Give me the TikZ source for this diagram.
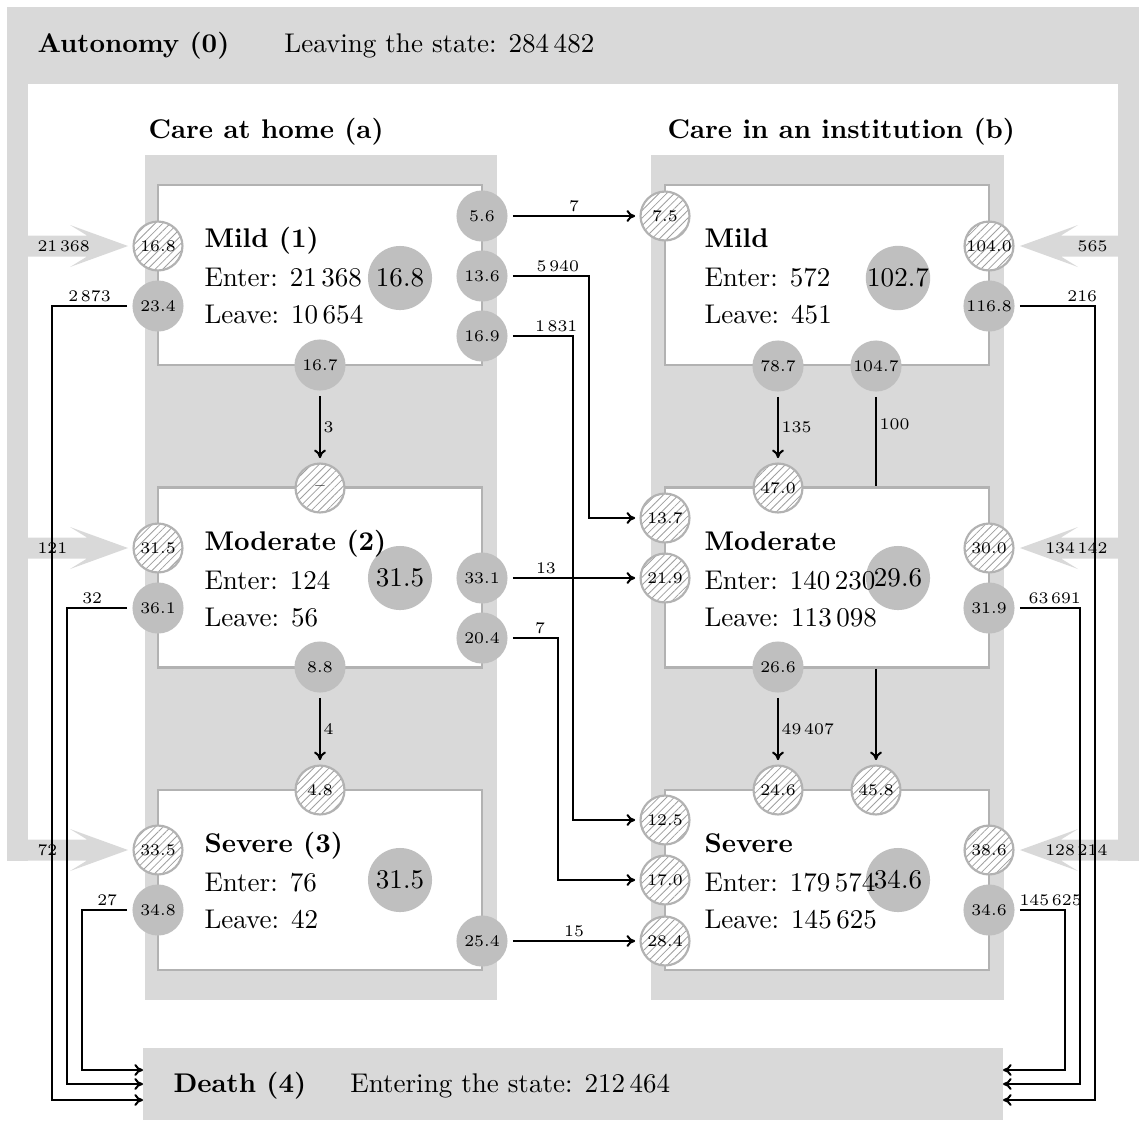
\documentclass[tikz,border=0pt]{standalone}
\usetikzlibrary{patterns.meta,arrows.meta}
\newcommand\smallfnt{\fontsize{6}{7}\selectfont}
\begin{document}
\begin{tikzpicture}[x=0.37pt,y=-0.37pt,
  conn/.style={line width=0.75pt},
  arr/.style={-{Computer Modern Rightarrow[length=3.2pt,width=4.4pt]}},
  lab/.style={font=\smallfnt, inner sep=1pt},
  sc/.style={circle, fill=gray!50, minimum size=18.9pt, inner sep=0pt, outer sep=2pt, font=\smallfnt},
  hc/.style={circle, draw=gray!60, line width=0.8pt, preaction={fill=white},
    pattern={Lines[angle=45,distance=2pt,line width=0.3pt]}, pattern color=gray!75,
    minimum size=18.1pt, inner sep=0pt, outer sep=2pt, font=\smallfnt},
  bc/.style={circle, fill=gray!50, minimum size=23.7pt, inner sep=0pt},
  stbox/.style={draw=gray!60, line width=0.8pt, fill=white, minimum width=119.9pt, minimum height=66.6pt, inner sep=0pt},
  txt/.style={anchor=base west, inner sep=0pt},
  ttl/.style={anchor=base west, inner sep=0pt, font=\bfseries},
  band/.style={fill=gray!30, draw=none},
  arlab/.style={font=\smallfnt, inner sep=0pt},
]
\useasboundingbox (0,0) rectangle (1139,1120);

% top bar, side bars, death bar
\fill[band] (7,7) rectangle (1139,84);
\fill[band] (7,84) rectangle (28,860.5);
\fill[band] (1118,84) rectangle (1139,860.5);
\node[band, minimum width=318.2pt, minimum height=26.64pt, inner sep=0pt] (death) at (573,1084) {};

% gray block arrows (left)
\foreach \c/\xs in {246/27,548/27,850/7}{
  \fill[band] (\xs,{\c-10.5}) -- (87,{\c-10.5}) -- (70,{\c-21}) -- (128,\c) -- (70,{\c+21}) -- (87,{\c+10.5}) -- (\xs,{\c+10.5}) -- cycle;
}
% gray block arrows (right)
\foreach \c/\xs in {246/1119,548/1119,850/1139}{
  \fill[band] (\xs,{\c-10.5}) -- (1061,{\c-10.5}) -- (1078,{\c-21}) -- (1020,\c) -- (1078,{\c+21}) -- (1061,{\c+10.5}) -- (\xs,{\c+10.5}) -- cycle;
}
\node[arlab, anchor=west] (inA1) at (37,246) {21\,368};
\node[arlab, anchor=west] (inA2) at (37,548) {121};
\node[arlab, anchor=west] (inA3) at (37,850) {72};
\node[arlab, anchor=east] (inB1) at (1108,246) {565};
\node[arlab, anchor=east] (inB2) at (1108,548) {134\,142};
\node[arlab, anchor=east] (inB3) at (1108,850) {128\,214};

% columns
\fill[band] (145,155) rectangle (497,1000);
\fill[band] (651,155) rectangle (1004,1000);
\node[ttl] (tA) at (148,138) {Care at home (a)};
\node[ttl] (tB) at (667,138) {Care in an institution (b)};

% top and bottom texts
\node[ttl] (auto) at (37,52) {Autonomy (0)};
\node[txt, anchor=base west] (autoL) at ([xshift=2em]auto.base east) {Leaving the state: 284\,482};
\node[ttl] (deathT) at (173,1092) {Death (4)};
\node[txt, anchor=base west] (deathE) at ([xshift=1.6em]deathT.base east) {Entering the state: 212\,464};

% state boxes
\node[stbox] (aM) at (320,275) {};
\node[stbox] (aMo) at (320,577.5) {};
\node[stbox] (aS) at (320,880) {};
\node[stbox] (bM) at (827,275) {};
\node[stbox] (bMo) at (827,577.5) {};
\node[stbox] (bS) at (827,880) {};

% big circles (drawn below the box texts)
\node[bc] (aMb) at (400,278) {16.8};
\node[bc] (aMob) at (400,578) {31.5};
\node[bc] (aSb) at (400,880) {31.5};
\node[bc] (bMb) at (898,278) {102.7};
\node[bc] (bMob) at (898,578) {29.6};
\node[bc] (bSb) at (898,880) {34.6};

% box texts
\node[ttl] (aMt) at (204,247) {Mild (1)};
\node[txt] (aMe) at (204,286) {Enter: 21\,368};
\node[txt] (aMl) at (204,323) {Leave: 10\,654};
\node[ttl] (aMot) at (204,550) {Moderate (2)};
\node[txt] (aMoe) at (204,589) {Enter: 124};
\node[txt] (aMol) at (204,626) {Leave: 56};
\node[ttl] (aSt) at (204,852) {Severe (3)};
\node[txt] (aSe) at (204,891) {Enter: 76};
\node[txt] (aSl) at (204,928) {Leave: 42};
\node[ttl] (bMt) at (704,247) {Mild};
\node[txt] (bMe) at (704,286) {Enter: 572};
\node[txt] (bMl) at (704,323) {Leave: 451};
\node[ttl] (bMot) at (704,550) {Moderate};
\node[txt] (bMoe) at (704,589) {Enter: 140\,230};
\node[txt] (bMol) at (704,626) {Leave: 113\,098};
\node[ttl] (bSt) at (704,852) {Severe};
\node[txt] (bSe) at (704,891) {Enter: 179\,574};
\node[txt] (bSl) at (704,928) {Leave: 145\,625};

% small circles, left column
\node[hc] (a1in) at (158,246) {16.8};
\node[sc] (a1d) at (158,306) {23.4};
\node[sc] (a1r1) at (482,216) {5.6};
\node[sc] (a1r2) at (482,276) {13.6};
\node[sc] (a1r3) at (482,336) {16.9};
\node[sc] (a1b) at (320,365) {16.7};
\node[hc] (a2t) at (320,488) {--};
\node[hc] (a2in) at (158,548) {31.5};
\node[sc] (a2d) at (158,608) {36.1};
\node[sc] (a2r1) at (482,578) {33.1};
\node[sc] (a2r2) at (482,638) {20.4};
\node[sc] (a2b) at (320,667) {8.8};
\node[hc] (a3t) at (320,790) {4.8};
\node[hc] (a3in) at (158,850) {33.5};
\node[sc] (a3d) at (158,910) {34.8};
\node[sc] (a3r) at (482,941) {25.4};

% small circles, right column
\node[hc] (b1l) at (665,216) {7.5};
\node[hc] (b1in) at (989,246) {104.0};
\node[sc] (b1d) at (989,306) {116.8};
\node[sc] (b1b1) at (778,366) {78.7};
\node[sc] (b1b2) at (876,366) {104.7};
\node[hc] (b2t) at (778,488) {47.0};
\node[hc] (b2l1) at (665,518) {13.7};
\node[hc] (b2l2) at (665,578) {21.9};
\node[hc] (b2in) at (989,548) {30.0};
\node[sc] (b2d) at (989,608) {31.9};
\node[sc] (b2b) at (778,667) {26.6};
\node[hc] (b3t1) at (778,790) {24.6};
\node[hc] (b3t2) at (876,790) {45.8};
\node[hc] (b3l1) at (665,820) {12.5};
\node[hc] (b3l2) at (665,880) {17.0};
\node[hc] (b3l3) at (665,941) {28.4};
\node[hc] (b3in) at (989,850) {38.6};
\node[sc] (b3d) at (989,910) {34.6};

% death entry points
\coordinate (dL1) at (143,1070);
\coordinate (dL2) at (143,1084);
\coordinate (dL3) at (143,1100);
\coordinate (dR1) at (1003,1070);
\coordinate (dR2) at (1003,1084);
\coordinate (dR3) at (1003,1100);

% connectors between columns
\draw[conn,arr] (a1r1) -- node[lab,above]{7} (b1l);
\draw[conn,arr] (a1r2) -- node[lab,above,pos=0.59]{5\,940} (589,276) |- (b2l1);
\draw[conn,arr] (a1r3) -- node[lab,above,pos=0.72]{1\,831} (573,336) |- (b3l1);
\draw[conn,arr] (a2r1) -- node[lab,above,pos=0.27]{13} (b2l2);
\draw[conn,arr] (a2r2) -- node[lab,above,pos=0.6]{7} (558,638) |- (b3l2);
\draw[conn,arr] (a3r) -- node[lab,above]{15} (b3l3);

% vertical connectors
\draw[conn,arr] (a1b) -- node[lab,right]{3} (a2t);
\draw[conn,arr] (a2b) -- node[lab,right]{4} (a3t);
\draw[conn,arr] (b1b1) -- node[lab,right]{135} (b2t);
\draw[conn] (b1b2) -- node[lab,right,pos=0.3]{100} (b1b2 |- bMo.north);
\draw[conn,arr] (b2b) -- node[lab,right]{49\,407} (b3t1);
\draw[conn,arr] (bMo.south -| b3t2) -- (b3t2);

% to death
\draw[conn,arr] (a1d) -- node[lab,above]{2\,873} (52,306) |- (dL3);
\draw[conn,arr] (a2d) -- node[lab,above,pos=0.58]{32} (67,608) |- (dL2);
\draw[conn,arr] (a3d) -- node[lab,above,pos=0.44]{27} (82,910) |- (dL1);
\draw[conn,arr] (b1d) -- node[lab,above,pos=0.83]{216} (1095,306) |- (dR3);
\draw[conn,arr] (b2d) -- node[lab,above,pos=0.58]{63\,691} (1080,608) |- (dR2);
\draw[conn,arr] (b3d) -- node[lab,above,pos=0.68]{145\,625} (1065,910) |- (dR1);
\end{tikzpicture}
\end{document}
